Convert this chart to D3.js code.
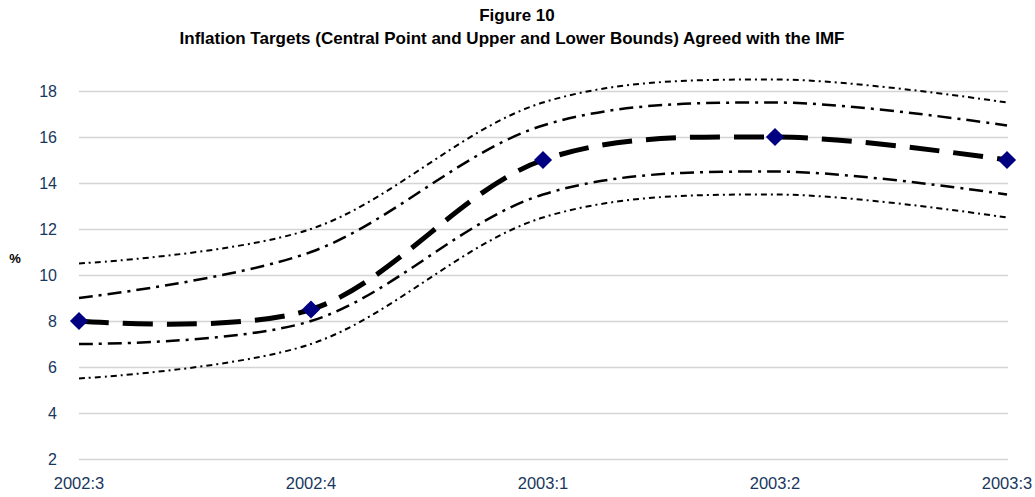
<!DOCTYPE html>
<html>
<head>
<meta charset="utf-8">
<script src="https://cdn.jsdelivr.net/npm/d3@7"></script>
<style>
  body { margin: 0; background: #fff; }
  text { font-family: "Liberation Sans", Arial, sans-serif; }
  .tick-label { fill: #17375e; }
  .grid line { stroke: #d4d4d4; stroke-width: 1.5; }
  .line { fill: none; stroke: #000; }
</style>
</head>
<body>
<script>
// Chart data
var quarters = ["2002:3", "2002:4", "2003:1", "2003:2", "2003:3"];
var central = [8, 8.5, 15, 16, 15];
var upperInner = [9, 11, 16.5, 17.5, 16.5];
var upperOuter = [10.5, 12, 17.5, 18.5, 17.5];
var lowerInner = [7, 8, 13.5, 14.5, 13.5];
var lowerOuter = [5.5, 7, 12.5, 13.5, 12.5];
var yTicks = [2, 4, 6, 8, 10, 12, 14, 16, 18];

// SVG area
var svgWidth = 1035;
var svgHeight = 497;

var svg = d3.select("body")
  .append("svg")
  .attr("width", svgWidth)
  .attr("height", svgHeight);

// Scales
var xScale = d3.scalePoint()
  .domain(quarters)
  .range([79, 1007]);

var yScale = d3.scaleLinear()
  .domain([2, 18])
  .range([459, 91]);

// Gridlines
svg.append("g")
  .classed("grid", true)
  .attr("transform", "translate(79, 0)")
  .call(d3.axisLeft(yScale).tickValues(yTicks).tickSize(-929).tickFormat(""))
  .call(g => g.select(".domain").remove());

// Y labels
svg.append("g")
  .selectAll("text")
  .data(yTicks)
  .join("text")
  .classed("tick-label", true)
  .attr("x", 57)
  .attr("y", d => yScale(d))
  .attr("dy", "0.36em")
  .attr("text-anchor", "end")
  .style("font-size", "16px")
  .text(d => d);

// X labels
svg.append("g")
  .selectAll("text")
  .data(quarters)
  .join("text")
  .classed("tick-label", true)
  .attr("x", d => xScale(d))
  .attr("y", 489)
  .attr("text-anchor", "middle")
  .style("font-size", "16.5px")
  .text(d => d);

// Percent label
svg.append("text")
  .attr("x", 15)
  .attr("y", 263)
  .attr("text-anchor", "middle")
  .style("font-size", "13px")
  .style("font-weight", "bold")
  .text("%");

// Titles
svg.append("text")
  .attr("x", 517)
  .attr("y", 21)
  .attr("text-anchor", "middle")
  .style("font-size", "17px")
  .style("font-weight", "bold")
  .text("Figure 10");

svg.append("text")
  .attr("x", 512)
  .attr("y", 44)
  .attr("text-anchor", "middle")
  .style("font-size", "17px")
  .style("font-weight", "bold")
  .text("Inflation Targets (Central Point and Upper and Lower Bounds) Agreed with the IMF");

// Smoothed line generator
var line = d3.line()
  .x((d, i) => xScale(quarters[i]))
  .y(d => yScale(d))
  .curve(d3.curveCatmullRom.alpha(0.5));

// Outer bounds (dotted)
[upperOuter, lowerOuter].forEach(function(series) {
  svg.append("path")
    .datum(series)
    .classed("line", true)
    .attr("d", line)
    .attr("stroke-width", 2)
    .attr("stroke-dasharray", "6,4,2,4");
});

// Inner bounds (dash-dot)
[upperInner, lowerInner].forEach(function(series) {
  svg.append("path")
    .datum(series)
    .classed("line", true)
    .attr("d", line)
    .attr("stroke-width", 2.5)
    .attr("stroke-dasharray", "14,6,3,6");
});

// Central point (thick dashed)
svg.append("path")
  .datum(central)
  .classed("line", true)
  .attr("d", line)
  .attr("stroke-width", 5)
  .attr("stroke-dasharray", "30,14");

// Diamond markers
svg.append("g")
  .selectAll("path")
  .data(central)
  .join("path")
  .attr("transform", (d, i) => `translate(${xScale(quarters[i])}, ${yScale(d)}) rotate(45)`)
  .attr("d", d3.symbol().type(d3.symbolSquare).size(165))
  .attr("fill", "#000080");
</script>
</body>
</html>
